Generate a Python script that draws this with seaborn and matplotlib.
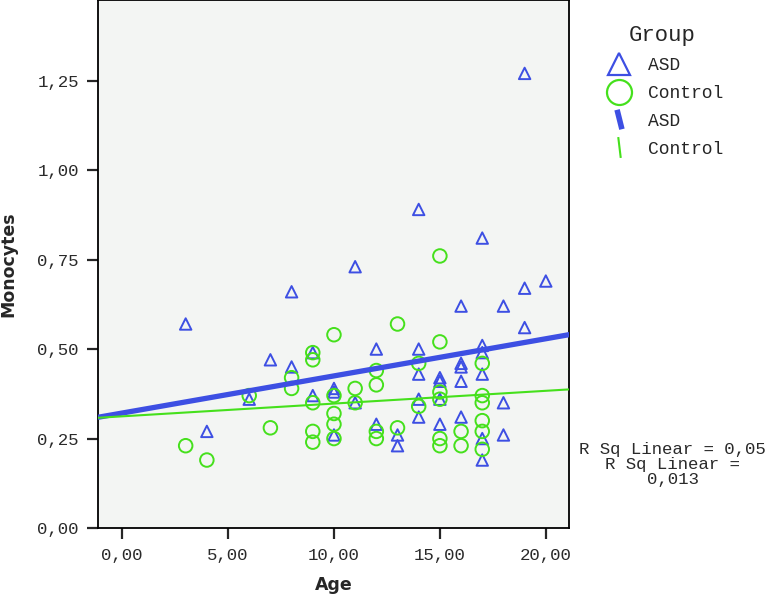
import numpy as np
import pandas as pd
import matplotlib
matplotlib.use("Agg")
import matplotlib.pyplot as plt
import seaborn as sns
from matplotlib.lines import Line2D
from matplotlib.ticker import FuncFormatter, MultipleLocator

# values
groups = ["ASD", "Control"]
asd_age = [3, 4, 6, 7, 8, 8, 9, 9, 10, 10, 10, 11, 11, 12, 12, 13, 13,
           14, 14, 14, 14, 14, 15, 15, 15, 15, 16, 16, 16, 16, 16,
           17, 17, 17, 17, 17, 17, 18, 18, 18, 19, 19, 19, 20]
asd_mono = [0.57, 0.27, 0.36, 0.47, 0.66, 0.45, 0.49, 0.37, 0.39, 0.38, 0.26,
            0.73, 0.35, 0.50, 0.29, 0.26, 0.23, 0.89, 0.50, 0.43, 0.36, 0.31,
            0.42, 0.41, 0.36, 0.29, 0.62, 0.46, 0.45, 0.41, 0.31,
            0.81, 0.51, 0.49, 0.43, 0.25, 0.19, 0.62, 0.35, 0.26,
            1.27, 0.67, 0.56, 0.69]
ctrl_age = [3, 4, 6, 7, 8, 8, 9, 9, 9, 9, 9, 10, 10, 10, 10, 10, 11, 11,
            12, 12, 12, 12, 13, 13, 14, 14, 15, 15, 15, 15, 15, 15, 16, 16,
            17, 17, 17, 17, 17, 17]
ctrl_mono = [0.23, 0.19, 0.37, 0.28, 0.42, 0.39, 0.49, 0.47, 0.35, 0.27, 0.24,
             0.54, 0.37, 0.32, 0.29, 0.25, 0.39, 0.35, 0.44, 0.40, 0.27, 0.25,
             0.57, 0.28, 0.46, 0.34, 0.76, 0.52, 0.38, 0.36, 0.25, 0.23,
             0.27, 0.23, 0.46, 0.37, 0.35, 0.30, 0.27, 0.22]
rsq_labels = ["R Sq Linear = 0,05", "R Sq Linear =\n0,013"]

df = pd.concat([
    pd.DataFrame({"Age": asd_age, "Monocytes": asd_mono, "Group": "ASD"}),
    pd.DataFrame({"Age": ctrl_age, "Monocytes": ctrl_mono, "Group": "Control"}),
], ignore_index=True)

colors = {"ASD": "#3d4fe3", "Control": "#45e01c"}
markers = {"ASD": "^", "Control": "o"}
sizes = {"ASD": 68, "Control": 95}
line_w = {"ASD": 3.8, "Control": 1.5}

sns.set_style("white")
plt.rcParams["font.family"] = ["Liberation Mono", "DejaVu Sans"]

fig = plt.figure(figsize=(7.67, 5.96), dpi=100)
ax = fig.add_axes([0.128, 0.114, 0.614, 0.886])
ax.set_facecolor("#f3f5f3")
ax.set_xlim(-1.13, 21.1)
ax.set_ylim(0, 1.475)

for g in groups:
    sub = df[df["Group"] == g]
    sns.scatterplot(data=sub, x="Age", y="Monocytes", marker=markers[g],
                    s=sizes[g], facecolor="none", edgecolor=colors[g],
                    linewidth=1.4, legend=False, ax=ax, zorder=2)
    sns.regplot(data=sub, x="Age", y="Monocytes", scatter=False, ci=None,
                truncate=False, color=colors[g], ax=ax,
                line_kws={"lw": line_w[g], "zorder": 3})

ax.set_xlim(-1.13, 21.1)
ax.set_ylim(0, 1.475)

fmt = FuncFormatter(lambda v, p: f"{v:.2f}".replace(".", ","))
ax.xaxis.set_major_locator(MultipleLocator(5))
ax.yaxis.set_major_locator(MultipleLocator(0.25))
ax.xaxis.set_major_formatter(fmt)
ax.yaxis.set_major_formatter(fmt)
ax.tick_params(axis="both", direction="out", length=8, width=1.6,
               pad=6, labelsize=12.5, labelcolor="#2a2a2a",
               left=True, bottom=True)
for s in ax.spines.values():
    s.set_color("black")
    s.set_linewidth(1.3)

ax.set_xlabel("Age", family="DejaVu Sans", fontweight="bold", fontsize=12.5,
              labelpad=10)
ax.set_ylabel("Monocytes", family="DejaVu Sans", fontweight="bold",
              fontsize=12.5, labelpad=14)

# legend
handles = [
    Line2D([], [], ls="none", marker="^", ms=16, mfc="none",
           mec=colors["ASD"], mew=1.6),
    Line2D([], [], ls="none", marker="o", ms=18, mfc="none",
           mec=colors["Control"], mew=1.6),
    Line2D([], [], ls="none", marker=[(-0.25, 1), (0.25, -1)], ms=14,
           mec=colors["ASD"], mew=4),
    Line2D([], [], ls="none", marker=[(-0.12, 1), (0.12, -1)], ms=15,
           mec=colors["Control"], mew=1.5),
]
leg = fig.legend(handles, groups + groups, title="Group",
                 loc="upper left", bbox_to_anchor=(0.762, 0.985),
                 frameon=False, fontsize=13, title_fontsize=16,
                 labelspacing=0.6, handletextpad=0.6)

fig.text(0.877, 0.221, "\n".join(rsq_labels), ha="center", va="center",
         multialignment="center", fontsize=12.5, color="#2a2a2a",
         linespacing=1.0)

fig.savefig("out.png", dpi=100)
